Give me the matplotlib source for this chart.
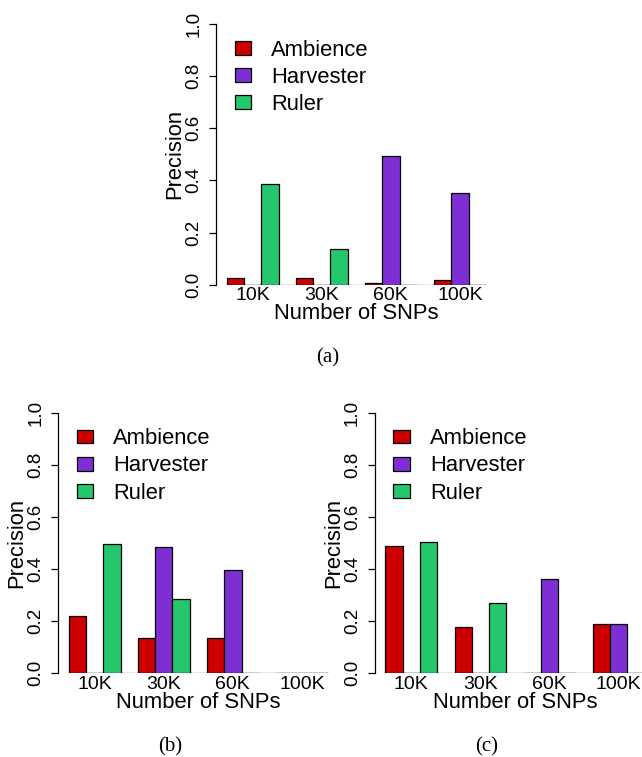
import numpy as np
import matplotlib
matplotlib.use("Agg")
import matplotlib.pyplot as plt
from matplotlib.patches import Patch

plt.rcParams['font.family'] = ['Liberation Sans', 'DejaVu Sans']

snps = ["10K", "30K", "60K", "100K"]
methods = ["Ambience", "Harvester", "Ruler"]
colors = ["#CD0000", "#7D2FD3", "#25C76C"]

# precision per panel, one list per method (10K, 30K, 60K, 100K)
ambience_a = [0.024, 0.027, 0.005, 0.017]
harvester_a = [0.0, 0.0, 0.492, 0.350]
ruler_a = [0.386, 0.136, 0.0, 0.0]

ambience_b = [0.221, 0.134, 0.134, 0.0]
harvester_b = [0.0, 0.483, 0.395, 0.0]
ruler_b = [0.495, 0.285, 0.0, 0.0]

ambience_c = [0.488, 0.178, 0.0, 0.188]
harvester_c = [0.0, 0.0, 0.362, 0.190]
ruler_c = [0.503, 0.269, 0.0, 0.0]

W, H = 642, 757
TICK_FS = 14
LAB_FS = 15.8


def draw_panel(rect, series):
    ax = fig.add_axes(rect)
    n = len(snps)
    # R barplot beside=TRUE layout: one unit gap before every group
    for j, vals in enumerate(series):
        x = 1 + 4 * np.arange(n) + j
        ax.bar(x, vals, width=1.0, align='edge', color=colors[j],
               edgecolor='black', linewidth=0.9, zorder=3)
    ax.hlines(0, 1, 4 * n, color='#808080', linewidth=1.0, zorder=2)
    ax.set_xlim(0.4, 4 * n + 0.6)
    ax.set_ylim(0, 1)
    for s in ['top', 'right', 'bottom']:
        ax.spines[s].set_visible(False)
    ax.spines['left'].set_linewidth(0.9)
    ax.set_yticks([0, 0.2, 0.4, 0.6, 0.8, 1.0])
    ax.set_yticklabels(["0.0", "0.2", "0.4", "0.6", "0.8", "1.0"],
                       rotation=90, va='center', fontsize=13.5)
    ax.tick_params(axis='y', length=5, width=0.9, pad=5)
    ax.set_xticks(2.5 + 4 * np.arange(n))
    ax.set_xticklabels(snps, fontsize=TICK_FS)
    ax.tick_params(axis='x', length=0, pad=2)
    ax.set_xlabel("Number of SNPs", fontsize=LAB_FS, labelpad=-1)
    ax.set_ylabel("Precision", fontsize=LAB_FS, labelpad=0)
    handles = [Patch(facecolor=c, edgecolor='black', linewidth=0.9) for c in colors]
    ax.legend(handles, methods, loc='upper left', bbox_to_anchor=(0.065, 0.94),
              frameon=False, fontsize=LAB_FS, handlelength=0.77, handleheight=0.6,
              handletextpad=0.9, labelspacing=0.28, borderpad=0, borderaxespad=0)
    return ax


fig = plt.figure(figsize=(W / 100, H / 100), dpi=100)

aw = 280 / W
ah = 260.7 / H
draw_panel([216.3 / W, (H - 284.7) / H, aw, ah], [ambience_a, harvester_a, ruler_a])
draw_panel([58.3 / W, (H - 673.3) / H, aw, ah], [ambience_b, harvester_b, ruler_b])
draw_panel([375.0 / W, (H - 673.3) / H, aw, ah], [ambience_c, harvester_c, ruler_c])

cap = dict(ha='center', va='center', fontsize=15, family='Liberation Serif')
fig.text(328 / W, 1 - 358 / H, "(a)", **cap)
fig.text(170 / W, 1 - 747 / H, "(b)", **cap)
fig.text(487 / W, 1 - 747 / H, "(c)", **cap)

fig.savefig("out.png", dpi=100)
